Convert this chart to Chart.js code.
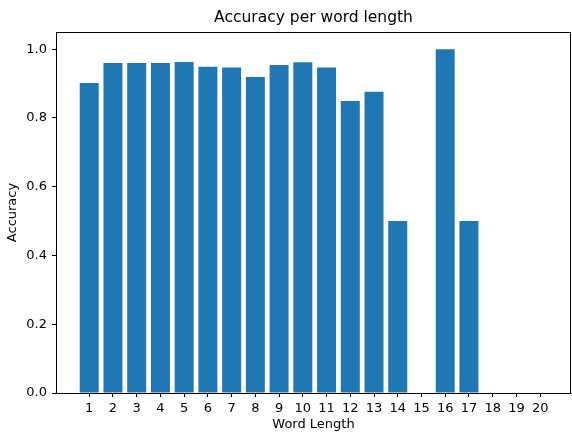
<!DOCTYPE html>
<html>
<head>
<meta charset="utf-8">
<script src="https://cdn.jsdelivr.net/npm/chart.js@4"></script>
<style>
  html, body { margin: 0; padding: 0; background: #fff; }
  #wrap { width: 572px; height: 432px; }
</style>
</head>
<body>
<div id="wrap"><canvas id="chart" width="572" height="432"></canvas></div>
<script>
const wordLengths = [1, 2, 3, 4, 5, 6, 7, 8, 9, 10, 11, 12, 13, 14, 15, 16, 17, 18, 19, 20];
const accuracy = [0.902, 0.960, 0.960, 0.960, 0.963, 0.949, 0.947, 0.919, 0.954, 0.962, 0.947, 0.849, 0.876, 0.5, 0, 1.0, 0.5, 0, 0, 0];
const yTicks = [0, 0.2, 0.4, 0.6, 0.8, 1.0];

const font = { family: 'DejaVu Sans', size: 13 };

// title centred over the plot area, plus the box around it
const frame = {
    id: 'frame',
    afterDraw(chart) {
        const { ctx, chartArea: a } = chart;
        ctx.save();
        ctx.strokeStyle = '#000';
        ctx.lineWidth = 1;
        ctx.strokeRect(a.left + 0.5, a.top + 0.5, a.right - a.left - 1, a.bottom - a.top);
        ctx.fillStyle = '#000';
        ctx.font = '15.5px "DejaVu Sans"';
        ctx.textAlign = 'center';
        ctx.textBaseline = 'middle';
        ctx.fillText('Accuracy per word length', (a.left + a.right) / 2, 18);
        ctx.restore();
    }
};

new Chart(document.getElementById('chart').getContext('2d'), {
    type: 'bar',
    data: {
        datasets: [{
            data: wordLengths.map((x, i) => ({ x: x, y: accuracy[i] })),
            backgroundColor: '#1f77b4',
            borderWidth: 0,
            barPercentage: 0.8,
            categoryPercentage: 1.0
        }]
    },
    options: {
        responsive: false,
        animation: false,
        layout: { padding: { top: 32, right: 1, left: 0, bottom: 0 } },
        plugins: { legend: { display: false }, tooltip: { enabled: false } },
        scales: {
            x: {
                type: 'linear',
                offset: false,
                min: -0.4,
                max: 21.3,
                afterBuildTicks: scale => { scale.ticks = wordLengths.map(v => ({ value: v })); },
                afterFit: scale => { scale.height = 39; },
                grid: { offset: false, drawOnChartArea: false, drawTicks: true, tickLength: 4, color: '#000' },
                border: { display: true, color: '#000', width: 1 },
                ticks: { color: '#000', font: font, padding: 4, maxRotation: 0, autoSkip: false },
                title: { display: true, text: 'Word Length', color: '#000', font: font, padding: { top: 1, bottom: 0 } }
            },
            y: {
                min: 0,
                max: 1.05,
                afterBuildTicks: scale => { scale.ticks = yTicks.map(v => ({ value: v })); },
                afterFit: scale => { scale.width = 56; },
                grid: { drawOnChartArea: false, drawTicks: true, tickLength: 4, color: '#000' },
                border: { display: true, color: '#000', width: 1 },
                ticks: { color: '#000', font: font, padding: 5, callback: v => v.toFixed(1) },
                title: { display: true, text: 'Accuracy', color: '#000', font: font, padding: { top: 5, bottom: 2 } }
            }
        }
    },
    plugins: [frame]
});
</script>
</body>
</html>
